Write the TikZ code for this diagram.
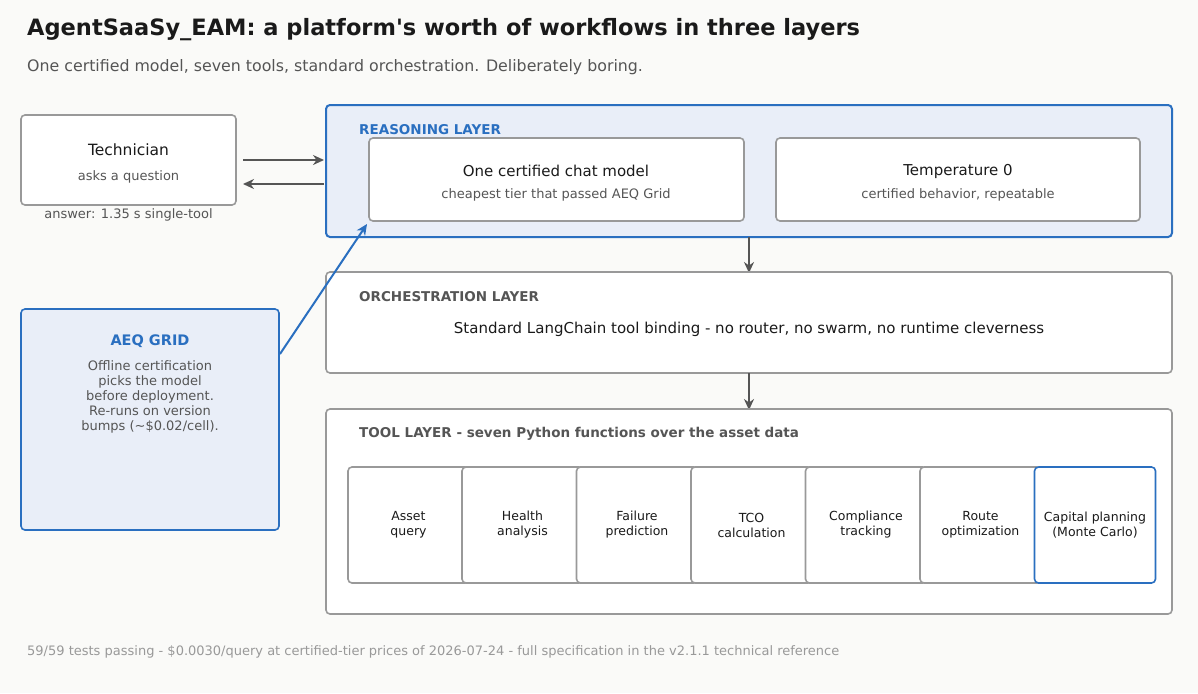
\documentclass[tikz,border=0pt]{standalone}
\usepackage{fontspec}
\setmainfont{DejaVu Sans}
\usetikzlibrary{arrows.meta}
\definecolor{bg}{HTML}{FAFAF8}
\definecolor{bdr}{HTML}{999999}
\definecolor{blu}{HTML}{2A6FC0}
\definecolor{lfill}{HTML}{E9EEF8}
\definecolor{dk}{HTML}{1A1A1A}
\definecolor{md}{HTML}{555555}
\definecolor{lt}{HTML}{999999}
\newcommand{\fs}[2]{\fontsize{#1}{#2}\selectfont}
\tikzset{
  box/.style={draw=bdr, line width=1.6pt, rounded corners=4pt, fill=white},
  bbox/.style={draw=blu, line width=2pt, rounded corners=4pt, fill=lfill},
  arr/.style={draw=md, line width=2pt, -{Stealth[length=11pt,width=10pt]}},
  tool/.style={box, minimum width=121pt, minimum height=116pt, align=center, font=\fs{12.5}{15}, text=dk, inner sep=0pt},
  lft/.style={anchor=west, inner sep=0pt},
}
\begin{document}
\begin{tikzpicture}[x=1pt,y=-1pt]
\fill[bg] (0,0) rectangle (1198,693);
\node[lft, text=dk, font=\fs{22.5}{26}\bfseries] (title) at (27,30) {AgentSaaSy\_EAM: a platform\textquotesingle s worth of workflows in three layers};
\node[lft, text=md, font=\fs{15.8}{18}] (sub) at (27,67) {One certified model, seven tools, standard orchestration. Deliberately boring.};
% technician
\draw[box] (21,115) rectangle (236,205);
\node[text=dk, font=\fs{15.5}{18}] (tech) at (128.5,150) {Technician};
\node[text=md, font=\fs{13}{15}] (techs) at (128.5,177) {asks a question};
\node[text=md, font=\fs{13}{15}] (ans) at (128.5,215) {answer: 1.35 s single-tool};
% reasoning
\draw[bbox] (326,105) rectangle (1172,237);
\node[lft, text=blu, font=\fs{13.5}{16}\bfseries] (rlab) at (359,130) {REASONING LAYER};
\draw[box] (369,138) rectangle (744,221);
\node[text=dk, font=\fs{15}{18}] (m1) at (556,171) {One certified chat model};
\node[text=md, font=\fs{13}{15}] (m2) at (556,195) {cheapest tier that passed AEQ Grid};
\draw[box] (776,138) rectangle (1140,221);
\node[text=dk, font=\fs{15}{18}] (t1) at (958,171) {Temperature 0};
\node[text=md, font=\fs{13}{15}] (t2) at (958,195) {certified behavior, repeatable};
\coordinate (a1s) at (243,160); \coordinate (a1e) at (324,160);
\coordinate (a2s) at (324,184); \coordinate (a2e) at (243,184);
\draw[arr] (a1s) -- (a1e);
\draw[arr] (a2s) -- (a2e);
% orchestration
\coordinate (r1) at (749,237); \coordinate (o1) at (749,273);
\draw[arr] (r1) -- (o1);
\draw[box] (326,272) rectangle (1172,373);
\node[lft, text=md, font=\fs{13.5}{16}\bfseries] (olab) at (359,297) {ORCHESTRATION LAYER};
\node[text=dk, font=\fs{15}{18}] (otxt) at (749,329) {Standard LangChain tool binding - no router, no swarm, no runtime cleverness};
\coordinate (o2) at (749,373); \coordinate (tl1) at (749,410);
\draw[arr] (o2) -- (tl1);
% tool layer
\draw[box] (326,409) rectangle (1172,614);
\node[lft, text=md, font=\fs{13.5}{16}\bfseries] (tlab) at (359,434) {TOOL LAYER - seven Python functions over the asset data};
\node[tool] (k1) at (408.5,525) {Asset\\query};
\node[tool] (k2) at (522.5,525) {Health\\analysis};
\node[tool] (k3) at (637,525) {Failure\\prediction};
\node[tool] (k4) at (751.5,525) {TCO\\calculation};
\node[tool] (k5) at (866,525) {Compliance\\tracking};
\node[tool] (k6) at (980.5,525) {Route\\optimization};
\node[tool, draw=blu] (k7) at (1095,525) {Capital planning\\(Monte Carlo)};
% AEQ grid
\draw[bbox, line width=1.6pt] (21,309) rectangle (279,530);
\node[text=blu, font=\fs{14.5}{17}\bfseries] (alab) at (150,341) {AEQ GRID};
\node[text=md, font=\fs{13}{15}, align=center, anchor=north, inner sep=0pt] (atxt) at (150,360) {Offline certification\\picks the model\\before deployment.\\Re-runs on version\\bumps (\textasciitilde\$0.02/cell).};
\coordinate (g1) at (280,354); \coordinate (g2) at (367,224);
\draw[draw=blu, line width=2pt, -{Stealth[length=11pt,width=10pt]}] (g1) -- (g2);
% footer
\node[lft, text=lt, font=\fs{13}{15}] (foot) at (27,652) {59/59 tests passing - \$0.0030/query at certified-tier prices of 2026-07-24 - full specification in the v2.1.1 technical reference};
\end{tikzpicture}
\end{document}
